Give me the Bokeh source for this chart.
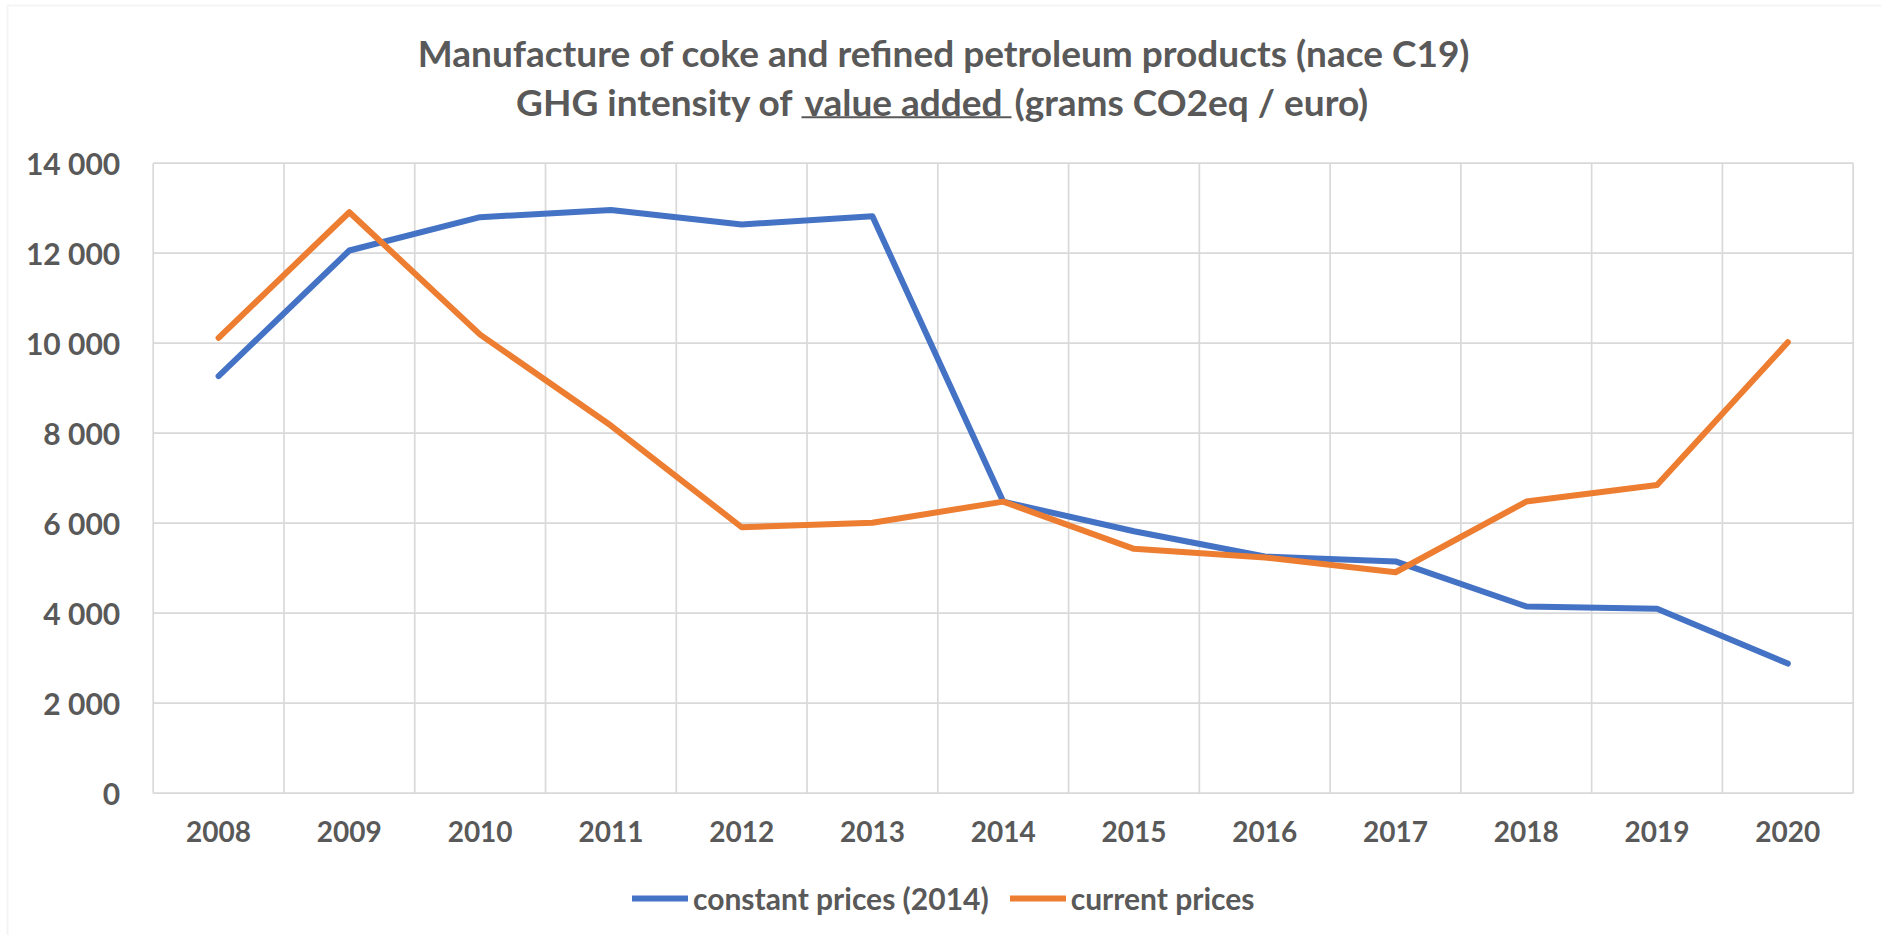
from bokeh.plotting import figure
from bokeh.models import FixedTicker, Range1d, Legend, LegendItem, Label, BoxAnnotation
from bokeh.embed import file_html
from bokeh.resources import INLINE

# GHG intensity of value added, grams CO2eq per euro
years = [2008, 2009, 2010, 2011, 2012, 2013, 2014, 2015, 2016, 2017, 2018, 2019, 2020]
constant_prices = [9270, 12060, 12800, 12960, 12640, 12820, 6480, 5820, 5260, 5150, 4150, 4100, 2880]
current_prices = [10120, 12910, 10190, 8170, 5910, 6010, 6480, 5430, 5240, 4910, 6480, 6850, 10020]

series_names = ["constant prices (2014)", "current prices"]
x_tick_labels = [str(y) for y in years]
y_ticks = [0, 2000, 4000, 6000, 8000, 10000, 12000, 14000]
y_tick_labels = ["0", "2 000", "4 000", "6 000", "8 000", "10 000", "12 000", "14 000"]

title_line1 = "Manufacture of coke and refined petroleum products (nace C19)"
title_line2_parts = ["GHG intensity of", "value added", "(grams CO2eq / euro)"]

TEXT = "#595959"
GRID = "#D9D9D9"
BLUE = "#4472C4"
ORANGE = "#ED7D31"
FONT = "Lato"
W, H = 1881, 935

# plot-area box in canvas pixels (left, right, top, bottom)
PA_L, PA_R, PA_T, PA_B = 152.7, 1852.7, 162.7, 792.7

# category boundaries: one slot per year
bounds = [y - 0.5 for y in years] + [years[-1] + 0.5]
x_lo, x_hi = bounds[0], bounds[-1]
y_lo, y_hi = y_ticks[0], y_ticks[-1]

# the frame covers the whole canvas; ranges are set so the plot area lands on PA_*
kx = (PA_R - PA_L) / (x_hi - x_lo)
ky = (PA_B - PA_T) / (y_hi - y_lo)
x_range = Range1d(x_lo - PA_L / kx, x_hi + (W - PA_R) / kx)
y_range = Range1d(y_lo - (H - PA_B) / ky, y_hi + PA_T / ky)

p = figure(
    width=W, height=H, title=None,
    output_backend="svg", toolbar_location=None,
    x_range=x_range, y_range=y_range,
    min_border=0,
)
p.outline_line_color = None
p.background_fill_color = "white"
p.border_fill_color = "white"
p.grid.visible = False

# grid of the plot area
p.segment(x0=bounds, y0=[y_lo] * len(bounds), x1=bounds, y1=[y_hi] * len(bounds),
          line_color=GRID, line_width=1.7)
p.segment(x0=[x_lo] * len(y_ticks), y0=y_ticks, x1=[x_hi] * len(y_ticks), y1=y_ticks,
          line_color=GRID, line_width=1.7)

r_const = p.line(years, constant_prices, line_color=BLUE, line_width=6,
                 line_cap="round", line_join="round")
r_curr = p.line(years, current_prices, line_color=ORANGE, line_width=6,
                line_cap="round", line_join="round")

# axes pinned to the plot-area edges
p.xaxis.fixed_location = y_lo
p.yaxis.fixed_location = x_lo
p.xaxis.ticker = FixedTicker(ticks=years)
p.xaxis.major_label_overrides = dict(zip(years, x_tick_labels))
p.yaxis.ticker = FixedTicker(ticks=y_ticks)
p.yaxis.major_label_overrides = dict(zip(y_ticks, y_tick_labels))
for ax in (p.xaxis[0], p.yaxis[0]):
    ax.axis_line_color = None
    ax.major_tick_line_color = None
    ax.minor_tick_line_color = None
    ax.major_tick_out = 0
    ax.major_tick_in = 0
    ax.minor_tick_out = 0
    ax.minor_tick_in = 0
    ax.major_label_text_font = FONT
    ax.major_label_text_font_style = "bold"
    ax.major_label_text_color = TEXT
p.xaxis.major_label_text_font_size = "28px"
p.yaxis.major_label_text_font_size = "30px"
p.xaxis.major_label_standoff = 28
p.yaxis.major_label_standoff = 33

legend = Legend(
    items=[LegendItem(label=series_names[0], renderers=[r_const]),
           LegendItem(label=series_names[1], renderers=[r_curr])],
    orientation="horizontal", location=(632, 17),
    glyph_width=56, glyph_height=40, label_height=40, label_width=288,
    label_standoff=5, spacing=21, padding=0, margin=0,
    border_line_color=None, background_fill_alpha=0,
    label_text_font=FONT, label_text_font_style="bold",
    label_text_font_size="30px", label_text_color=TEXT,
)
p.add_layout(legend)

# two-line title
title_style = dict(x_units="screen", y_units="screen", text_baseline="middle",
                   text_font=FONT, text_font_style="bold",
                   text_font_size="37px", text_color=TEXT)
p.add_layout(Label(x=943.5, y=H - 52, text=title_line1, text_align="center", **title_style))
p.add_layout(Label(x=793, y=H - 101, text=title_line2_parts[0], text_align="right", **title_style))
p.add_layout(Label(x=903, y=H - 101, text=title_line2_parts[1], text_align="center", **title_style))
p.add_layout(Label(x=1014, y=H - 101, text=title_line2_parts[2], text_align="left", **title_style))
p.add_layout(BoxAnnotation(left=801, right=1011, top=H - 115.8, bottom=H - 117.8,
                           left_units="screen", right_units="screen",
                           top_units="screen", bottom_units="screen",
                           fill_color=TEXT, fill_alpha=1, line_color=None))

# chart area border
p.add_layout(BoxAnnotation(left=7, right=W + 20, top=H - 5, bottom=-20,
                           left_units="screen", right_units="screen",
                           top_units="screen", bottom_units="screen",
                           fill_color=None, line_color=GRID, line_width=2))

open("out.html", "w").write(file_html(p, INLINE))
